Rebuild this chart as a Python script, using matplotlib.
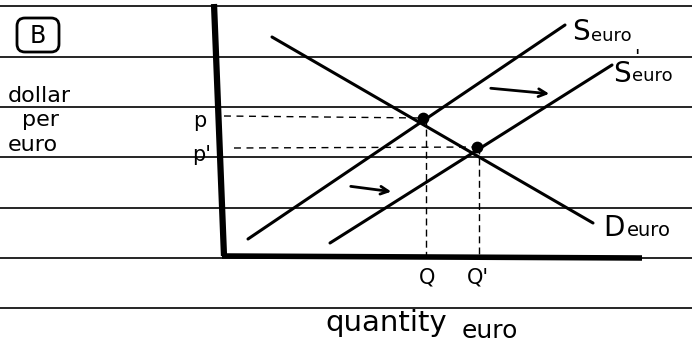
import matplotlib
matplotlib.use("Agg")
from matplotlib import pyplot as plt
from matplotlib.patches import FancyBboxPatch

# lined paper rows (pixel y)
rule_y = [6, 57, 107, 157, 208, 258, 308]

# curves: (x0, y0, x1, y1) in sketch pixel coords
supply = [248, 239, 565, 25]
supply_new = [330, 243, 612, 65]
demand = [272, 37, 593, 223]

# equilibria
eq_x = [423, 477]
eq_y = [118, 147]

# axes of the sketch
y_axis = [214, 4, 224, 256]
x_axis = [222, 256, 642, 258]

# shift arrows
arrows = [[348, 186, 394, 192], [488, 88, 552, 94]]

fig = plt.figure(figsize=(6.92, 3.49), dpi=100)
ax = fig.add_axes([0, 0, 1, 1])
ax.set_xlim(0, 692)
ax.set_ylim(349, 0)
ax.axis("off")

for y in rule_y:
    ax.plot([0, 692], [y, y], color="black", lw=1.2)

ax.plot(y_axis[::2], y_axis[1::2], color="black", lw=4.5, solid_capstyle="butt")
ax.plot(x_axis[::2], x_axis[1::2], color="black", lw=4, solid_capstyle="butt")

for c in [supply, supply_new, demand]:
    ax.plot(c[::2], c[1::2], color="black", lw=2.2, solid_capstyle="round")

# dashed guides
ax.plot([224, eq_x[0]], [eq_y[0] - 2, eq_y[0]], color="black", lw=1, dashes=(5, 4))
ax.plot([234, eq_x[1]], [eq_y[1] + 1, eq_y[1]], color="black", lw=1, dashes=(5, 4))
ax.plot([eq_x[0] + 3, eq_x[0] + 3], [eq_y[0], 256], color="black", lw=1, dashes=(5, 3))
ax.plot([eq_x[1] + 2, eq_x[1] + 2], [eq_y[1], 256], color="black", lw=1, dashes=(5, 3))
ax.scatter(eq_x, eq_y, s=55, color="black", zorder=5)

for a in arrows:
    ax.annotate("", xy=(a[2], a[3]), xytext=(a[0], a[1]),
                arrowprops=dict(arrowstyle="->", color="black", lw=2,
                                mutation_scale=14))

box = FancyBboxPatch((17, 18), 42, 34, boxstyle="round,pad=0,rounding_size=8",
                     fill=False, lw=2, ec="black")
ax.add_patch(box)
ax.text(38, 36, "B", fontsize=17, ha="center", va="center")

ax.text(8, 96, "dollar", fontsize=16, va="center")
ax.text(22, 120, "per", fontsize=16, va="center")
ax.text(8, 145, "euro", fontsize=16, va="center")
ax.text(193, 121, "p", fontsize=15, va="center")
ax.text(192, 155, "p'", fontsize=15, va="center")

ax.text(572, 32, "S", fontsize=20, va="center")
ax.text(591, 36, "euro", fontsize=13, va="center")
ax.text(613, 74, "S", fontsize=20, va="center")
ax.text(632, 76, "euro", fontsize=13, va="center")
ax.text(634, 58, "'", fontsize=14, va="center")
ax.text(603, 228, "D", fontsize=20, va="center")
ax.text(627, 231, "euro", fontsize=14, va="center")

ax.text(427, 277, "Q", fontsize=15, ha="center", va="center")
ax.text(478, 277, "Q'", fontsize=15, ha="center", va="center")

ax.text(325, 323, "quantity", fontsize=21, va="center")
ax.text(462, 331, "euro", fontsize=18, va="center")

fig.savefig("out.png", dpi=100)
